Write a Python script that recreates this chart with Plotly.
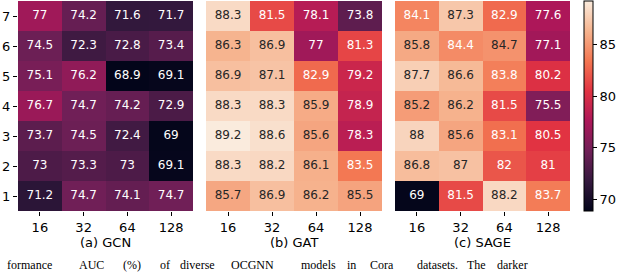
import plotly.graph_objects as go

x_labels = ['16', '32', '64', '128']
y_labels = ['1', '2', '3', '4', '5', '6', '7']

# rows ordered from y=1 (bottom) to y=7 (top)
gcn = [
    [71.2, 74.7, 74.1, 74.7],
    [73.0, 73.3, 73.0, 69.1],
    [73.7, 74.5, 72.4, 69.0],
    [76.7, 74.7, 74.2, 72.9],
    [75.1, 76.2, 68.9, 69.1],
    [74.5, 72.3, 72.8, 73.4],
    [77.0, 74.2, 71.6, 71.7],
]
gat = [
    [85.7, 86.9, 86.2, 85.5],
    [88.3, 88.2, 86.1, 83.5],
    [89.2, 88.6, 85.6, 78.3],
    [88.3, 88.3, 85.9, 78.9],
    [86.9, 87.1, 82.9, 79.2],
    [86.3, 86.9, 77.0, 81.3],
    [88.3, 81.5, 78.1, 73.8],
]
sage = [
    [69.0, 81.5, 88.2, 83.7],
    [86.8, 87.0, 82.0, 81.0],
    [88.0, 85.6, 83.1, 80.5],
    [85.2, 86.2, 81.5, 75.5],
    [87.7, 86.6, 83.8, 80.2],
    [85.8, 84.4, 84.7, 77.1],
    [84.1, 87.3, 82.9, 77.6],
]
titles = ['(a) GCN', '(b) GAT', '(c) SAGE']
panels = [gcn, gat, sage]

caption_words = ['formance', 'AUC', '(%)', 'of', 'diverse', 'OCGNN', 'models', 'in',
                 'Cora', 'datasets.', 'The', 'darker']
caption_x = [6, 78, 122, 159, 179, 230, 300, 346, 369, 416, 466, 496]

allv = [v for p in panels for r in p for v in r]
zmin, zmax = min(allv), max(allv)

rocket_hex = ['#03051a', '#35193e', '#701f57', '#ad1759', '#e13342', '#f37651', '#f6b48f', '#faebdd']
rocket = [[i / 7, c] for i, c in enumerate(rocket_hex)]


def hex2rgb(h):
    return [int(h[i:i + 2], 16) / 255 for i in (1, 3, 5)]


def color_at(t):
    t = max(0, min(1, t))
    i = min(int(t * 7), 6)
    f = t * 7 - i
    a, b = hex2rgb(rocket_hex[i]), hex2rgb(rocket_hex[i + 1])
    return [a[k] + (b[k] - a[k]) * f for k in range(3)]


def lum(rgb):
    lin = [c / 12.92 if c <= 0.03928 else ((c + 0.055) / 1.055) ** 2.4 for c in rgb]
    return 0.2126 * lin[0] + 0.7152 * lin[1] + 0.0722 * lin[2]


W, H = 640, 273
doms = [(18, 193), (206, 382), (395, 570)]
ytop, ybot = 1, 211

fig = go.Figure()
for k, data in enumerate(panels):
    xa = 'x' if k == 0 else f'x{k+1}'
    ya = 'y' if k == 0 else f'y{k+1}'
    fig.add_trace(go.Heatmap(
        z=data, x=x_labels, y=y_labels, colorscale=rocket, zmin=zmin, zmax=zmax,
        xaxis=xa, yaxis=ya, showscale=(k == 0), xgap=0, ygap=0, hoverinfo='skip',
        colorbar=dict(thickness=9, len=ybot - ytop, lenmode='pixels', x=584 / W, xanchor='left',
                      y=1 - ybot / H, yanchor='bottom', outlinewidth=1, outlinecolor='black',
                      tickvals=[70, 75, 80, 85], ticks='outside', ticklen=4, tickcolor='black',
                      tickfont=dict(size=13, color='black', family='DejaVu Sans'), xpad=0, ypad=0)
    ))
    xs, ys, txt, cols = [], [], [], []
    for ri, row in enumerate(data):
        for ci, v in enumerate(row):
            xs.append(x_labels[ci]); ys.append(y_labels[ri]); txt.append(f'{v:g}')
            l = lum(color_at((v - zmin) / (zmax - zmin)))
            cols.append('#262626' if l > 0.408 else 'white')
    fig.add_trace(go.Scatter(x=xs, y=ys, text=txt, mode='text', xaxis=xa, yaxis=ya,
                             textfont=dict(size=12, color=cols, family='DejaVu Sans'),
                             hoverinfo='skip', showlegend=False))
    x0, x1 = doms[k]
    axis_common = dict(ticklen=4, tickcolor='black', showgrid=False,
                       zeroline=False, showline=False,
                       tickfont=dict(size=13, color='black', family='DejaVu Sans'))
    fig.update_layout(**{
        ('xaxis' if k == 0 else f'xaxis{k+1}'): dict(domain=[x0 / W, x1 / W], anchor=ya,
                                                     type='category', ticks='outside', **axis_common),
        ('yaxis' if k == 0 else f'yaxis{k+1}'): dict(domain=[1 - ybot / H, 1 - ytop / H], anchor=xa,
                                                     type='category', showticklabels=(k == 0),
                                                     ticks='outside' if k == 0 else '',
                                                     **axis_common),
    })
    fig.add_annotation(text=titles[k], x=(x0 + x1) / 2 / W, y=1 - 242 / H, xref='paper', yref='paper',
                       showarrow=False, font=dict(size=13, color='black', family='DejaVu Sans'),
                       xanchor='center', yanchor='middle')

for w, xp in zip(caption_words, caption_x):
    fig.add_annotation(text=w, x=xp / W, y=0, xref='paper', yref='paper', showarrow=False,
                       xanchor='left', yanchor='bottom', borderpad=0,
                       font=dict(size=12, color='black', family='Liberation Serif'))

fig.update_layout(width=W, height=H, margin=dict(l=0, r=0, t=0, b=0),
                  paper_bgcolor='white', plot_bgcolor='white', showlegend=False)
fig.write_html('out.html', config={'displayModeBar': False},
               post_script="document.body.style.margin='0';document.body.style.overflow='hidden';")
